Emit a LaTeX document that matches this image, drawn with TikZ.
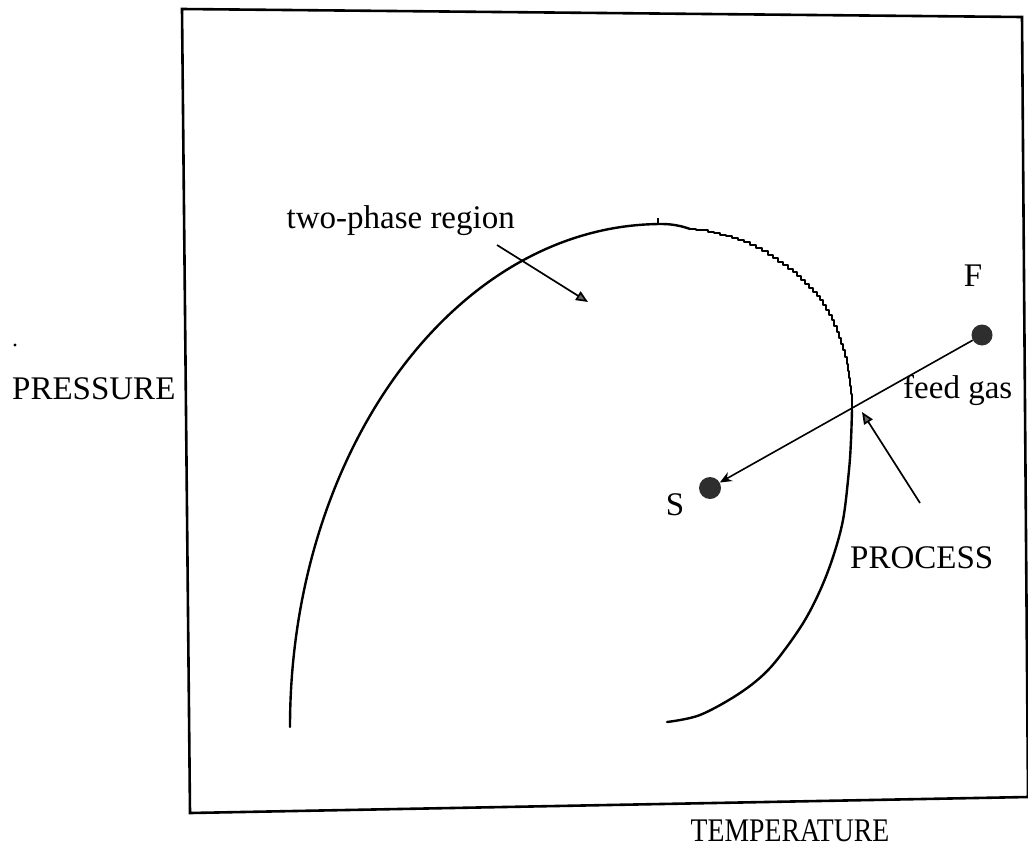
\documentclass[tikz,border=0pt]{standalone}
\usepackage{fontspec}
\setmainfont{Liberation Serif}
\usetikzlibrary{arrows.meta}
\begin{document}
\begin{tikzpicture}[x=1pt,y=-1pt,
  lbl/.style={inner sep=0pt, font=\fontsize{33}{40}\selectfont},
  frameline/.style={line width=2.6pt, line join=miter},
  curveline/.style={line width=2.4pt, line join=round, line cap=round},
  pointer/.style={line width=1.7pt, -{Triangle[length=12pt,width=10pt,fill=black!60]}},
  dot/.style={circle, fill=black!82, inner sep=0pt, minimum size=#1}
]
\useasboundingbox (0,0) rectangle (1028,862);
% frame
\draw[frameline] (182,9) -- (1022,17) -- (1028,797) -- (190,813) -- cycle;
% phase envelope: left smooth branch
\draw[curveline] (290,727) .. controls (290,452) and (455,224) .. (662,224)
   .. controls (672,224) and (682,226) .. (690,229);
% jagged (digitised) upper right part
\draw[curveline, line width=2.1pt] plot[const plot] coordinates {(690,229) (696,230) (702,230) (708,232) (714,233) (720,235) (726,236) (732,238) (738,240) (744,242) (750,245) (756,248) (762,251) (768,255) (773,258) (778,262) (783,265) (788,269) (793,272) (797,276) (801,280) (805,284) (809,288) (813,292) (817,296) (820,300) (823,305) (826,310) (829,315) (832,320) (834,326) (837,332) (839,338) (841,344) (843,350) (845,357) (847,364) (848,371) (849,378) (850,386) (851,394) (852,402) (852,410)};
% lower right smooth branch
\draw[curveline] plot[smooth, tension=0.55] coordinates {(852,410) (851,440) (849,470) (843,520) (832,560) (818,595) (800,628) (770,668) (740,693) (700,715) (667,722)};
% tiny tick on top
\draw[line width=1.2pt] (658,218) -- (658,224);
% labels
\node[lbl, anchor=base east] (tp) at (515,228) {two-phase region};
\node[lbl, anchor=base] (Flbl) at (973,286) {F};
\node[lbl, anchor=base west] (feed) at (903,398) {feed gas};
\node[lbl, anchor=base] (Slbl) at (675,515) {S};
\node[lbl, anchor=base west] (proc) at (850,568) {PROCESS};
\node[lbl, anchor=base west] (pres) at (12,399) {PRESSURE};
\node[lbl, anchor=base, xscale=0.84] (temp) at (790,841) {TEMPERATURE};
\fill (15,345) circle (1.7);
% points
\node[dot=21pt] (Fdot) at (982,335) {};
\node[dot=22pt] (Sdot) at (710,488) {};
% connectors
\coordinate (tpA) at (497,245);
\coordinate (tpB) at (588,302);
\draw[pointer] (tpA) -- (tpB);
\draw[line width=1.6pt, -{Stealth[length=12pt,width=10pt]}] (Fdot) -- (Sdot);
\coordinate (prA) at (920,503);
\coordinate (prB) at (862,412);
\draw[pointer] (prA) -- (prB);
\end{tikzpicture}
\end{document}
